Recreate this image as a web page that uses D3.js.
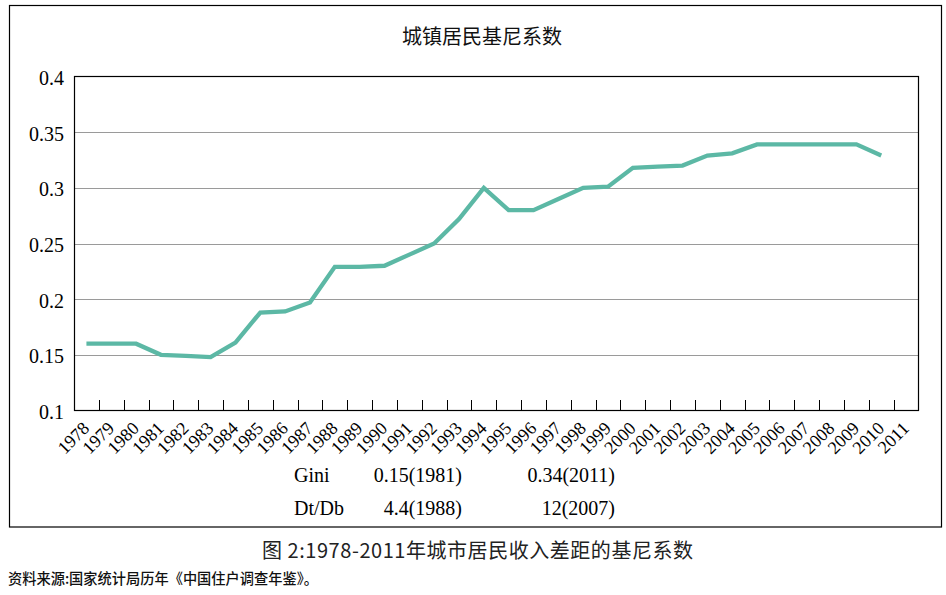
<!DOCTYPE html>
<html>
<head>
<meta charset="utf-8">
<script src="https://cdn.jsdelivr.net/npm/d3@7"></script>
<style>
  body { margin: 0; background: #fff; }
  svg { display: block; }
</style>
</head>
<body>
<div id="chart"></div>
<script>
// Data
const years = ['1978','1979','1980','1981','1982','1983','1984','1985','1986','1987','1988',
  '1989','1990','1991','1992','1993','1994','1995','1996','1997','1998','1999','2000',
  '2001','2002','2003','2004','2005','2006','2007','2008','2009','2010','2011']
// gini values (no value for 2011)
const giniYears = ['1978','1979','1980','1981','1982','1983','1984','1985','1986','1987','1988',
  '1989','1990','1991','1992','1993','1994','1995','1996','1997','1998','1999','2000',
  '2001','2002','2003','2004','2005','2006','2007','2008','2009','2010']
const giniValues = [0.16, 0.16, 0.16, 0.15, 0.149, 0.148, 0.161, 0.188, 0.189, 0.197, 0.229,
  0.229, 0.230, 0.240, 0.250, 0.272, 0.300, 0.280, 0.280, 0.290, 0.300, 0.301, 0.318,
  0.319, 0.320, 0.329, 0.331, 0.339, 0.339, 0.339, 0.339, 0.339, 0.329]
const yTicks = [0.1, 0.15, 0.2, 0.25, 0.3, 0.35, 0.4]
const yTickLabels = ['0.1', '0.15', '0.2', '0.25', '0.3', '0.35', '0.4']

const tableLabels = ['Gini', 'Dt/Db']
const tableLow = ['0.15(1981)', '4.4(1988)']
const tableHigh = ['0.34(2011)', '12(2007)']

const chartTitle = '城镇居民基尼系数'
const caption = '图 2:1978-2011年城市居民收入差距的基尼系数'
const source = '资料来源:国家统计局历年《中国住户调查年鉴》。'

function draw() {
  const dimensions = {
    width: 946,
    height: 595,
    left: 74,
    top: 76.5,
    right: 918.5,
    bottom: 410.5
  }
  const serif = 'Liberation Serif, Times New Roman, serif'
  const cjk = 'Noto Sans CJK SC, sans-serif'

  const svg = d3.select('#chart')
    .append('svg')
    .attr('width', dimensions.width)
    .attr('height', dimensions.height)

  // outer frame
  svg.append('rect')
    .attr('x', 9.5).attr('y', 5.5)
    .attr('width', 932).attr('height', 521.5)
    .attr('fill', 'none')
    .attr('stroke', '#000')
    .attr('stroke-width', 1.2)

  // Scales
  const xScale = d3.scaleBand()
    .domain(years)
    .range([dimensions.left, dimensions.right])

  const yScale = d3.scaleLinear()
    .domain([0.1, 0.4])
    .range([dimensions.bottom, dimensions.top])

  // gridlines
  svg.append('g')
    .selectAll('line')
    .data(yTicks.slice(1, -1))
    .join('line')
    .attr('x1', dimensions.left)
    .attr('x2', dimensions.right)
    .attr('y1', d => Math.round(yScale(d)) + 0.5)
    .attr('y2', d => Math.round(yScale(d)) + 0.5)
    .attr('stroke', '#9a9a9a')
    .attr('stroke-width', 1)

  // plot border
  svg.append('rect')
    .attr('x', dimensions.left + 0.5)
    .attr('y', dimensions.top)
    .attr('width', dimensions.right - dimensions.left - 0.5)
    .attr('height', dimensions.bottom - dimensions.top)
    .attr('fill', 'none')
    .attr('stroke', '#000')
    .attr('stroke-width', 1.2)

  // Y tick labels
  svg.append('g')
    .selectAll('text')
    .data(yTicks)
    .join('text')
    .attr('x', dimensions.left - 10)
    .attr('y', d => yScale(d))
    .attr('dy', '0.42em')
    .attr('text-anchor', 'end')
    .attr('font-family', serif)
    .attr('font-size', 20)
    .attr('fill', '#000')
    .text((d, i) => yTickLabels[i])

  // X axis: ticks on band boundaries, pointing up into the plot
  svg.append('g')
    .selectAll('line')
    .data(years.slice(1))
    .join('line')
    .attr('x1', d => Math.round(xScale(d)) + 0.5)
    .attr('x2', d => Math.round(xScale(d)) + 0.5)
    .attr('y1', dimensions.bottom)
    .attr('y2', dimensions.bottom - 10.5)
    .attr('stroke', '#000')
    .attr('stroke-width', 1)

  // rotated year labels
  svg.append('g')
    .selectAll('text')
    .data(years)
    .join('text')
    .attr('transform', d =>
      `translate(${xScale(d) + xScale.bandwidth() / 2 + 4}, ${dimensions.bottom + 19}) rotate(-45)`)
    .attr('text-anchor', 'end')
    .attr('font-family', serif)
    .attr('font-size', 18)
    .attr('fill', '#000')
    .text(d => d)

  // Line
  const points = giniYears.map((y, i) => [y, giniValues[i]])
  const lineGenerator = d3.line()
    .x(d => xScale(d[0]) + xScale.bandwidth() / 2)
    .y(d => yScale(d[1]))
  svg.append('path')
    .datum(points)
    .attr('d', lineGenerator)
    .attr('fill', 'none')
    .attr('stroke', '#5cb8a5')
    .attr('stroke-width', 4.3)
    .attr('stroke-linejoin', 'miter')

  // Title
  svg.append('text')
    .attr('x', 482)
    .attr('y', 43.5)
    .attr('text-anchor', 'middle')
    .attr('font-family', cjk)
    .attr('font-size', 20)
    .attr('fill', '#111')
    .text(chartTitle)

  // small table under the axis
  const table = svg.append('g')
    .attr('font-family', serif)
    .attr('font-size', 20)
    .attr('fill', '#000')
  table.selectAll('.lab')
    .data(tableLabels)
    .join('text')
    .attr('class', 'lab')
    .attr('x', 294)
    .attr('y', (d, i) => 481.5 + i * 33)
    .text(d => d)
  table.selectAll('.low')
    .data(tableLow)
    .join('text')
    .attr('class', 'low')
    .attr('x', 462)
    .attr('y', (d, i) => 481.5 + i * 33)
    .attr('text-anchor', 'end')
    .text(d => d)
  table.selectAll('.high')
    .data(tableHigh)
    .join('text')
    .attr('class', 'high')
    .attr('x', 615)
    .attr('y', (d, i) => 481.5 + i * 33)
    .attr('text-anchor', 'end')
    .text(d => d)

  // caption and source
  svg.append('text')
    .attr('x', 262)
    .attr('y', 558)
    .attr('textLength', 431)
    .attr('lengthAdjust', 'spacing')
    .attr('font-family', cjk)
    .attr('font-size', 20)
    .attr('fill', '#222')
    .text(caption)

  svg.append('text')
    .attr('x', 8)
    .attr('y', 584)
    .attr('textLength', 310)
    .attr('lengthAdjust', 'spacingAndGlyphs')
    .attr('font-family', cjk)
    .attr('font-size', 14.5)
    .attr('font-weight', 500)
    .attr('fill', '#111')
    .text(source)
}

draw()
</script>
</body>
</html>
